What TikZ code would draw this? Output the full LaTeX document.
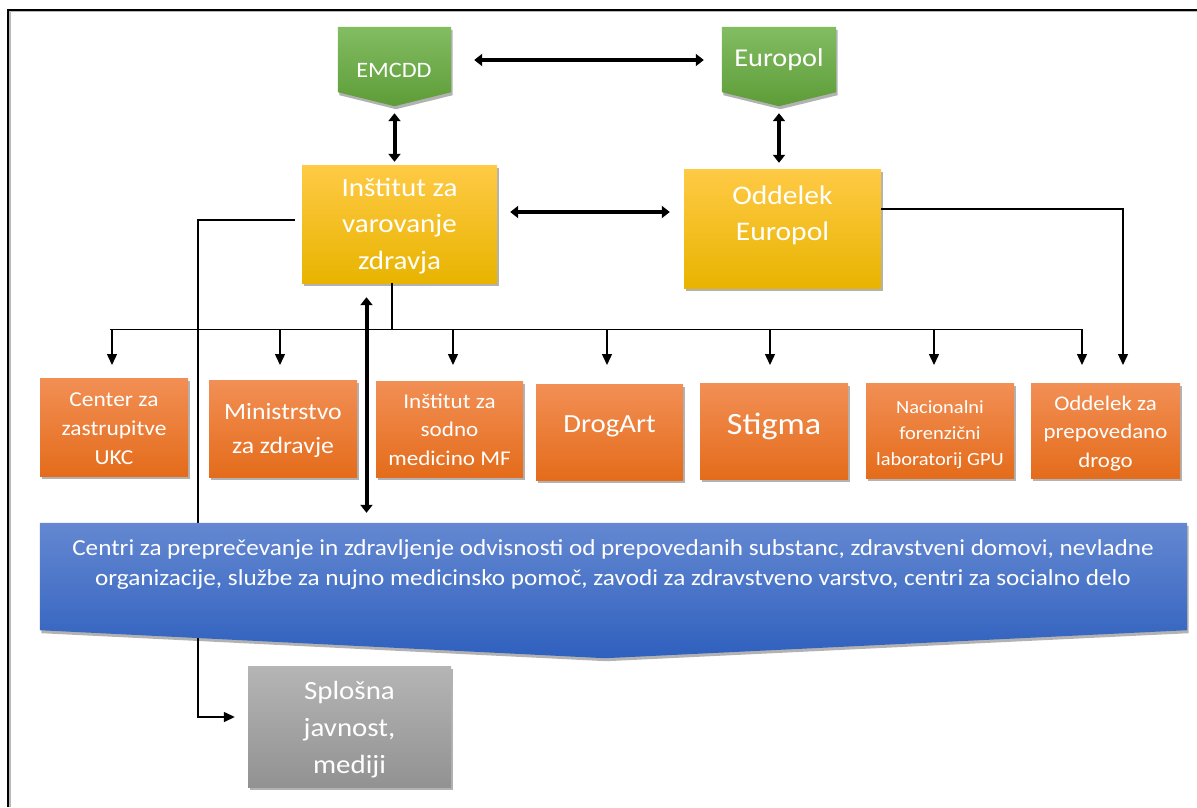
\documentclass[tikz,border=0pt]{standalone}
\usepackage{fontspec}
\setmainfont{Carlito}[FakeStretch=1.1]
\usetikzlibrary{arrows.meta,calc,shadows}
\definecolor{gtop}{HTML}{82BD62}
\definecolor{gbot}{HTML}{5E9C38}
\definecolor{ytop}{HTML}{FFCA45}
\definecolor{ymid}{HTML}{FFC000}
\definecolor{ybot}{HTML}{E8B400}
\definecolor{otop}{HTML}{F28F55}
\definecolor{omid}{HTML}{EE7B34}
\definecolor{obot}{HTML}{E46C1B}
\definecolor{btop}{HTML}{6488D1}
\definecolor{bbot}{HTML}{2F60BE}
\definecolor{stop}{HTML}{B5B5B5}
\definecolor{sbot}{HTML}{929292}
\tikzset{
  shade/.style={drop shadow={shadow xshift=1.5pt,shadow yshift=-3pt,opacity=.3,fill=black}},
  hold/.style={rectangle,inner sep=0pt},
  greenfill/.style={top color=gtop,bottom color=gbot,shade},
  goldbox/.style={hold,top color=ytop,middle color=ymid,bottom color=ybot,shade},
  orangebox/.style={hold,top color=otop,middle color=omid,bottom color=obot,shade},
  greybox/.style={hold,top color=stop,bottom color=sbot,shade},
  bluefill/.style={top color=btop,bottom color=bbot,shade},
  txt/.style={text=white,align=center,inner sep=0pt},
  bigarrow/.style={line width=4pt,{Triangle[width=12pt,length=8pt]}-{Triangle[width=12pt,length=8pt]}},
  arr/.style={line width=1.4pt,-{Triangle[width=10pt,length=11pt]}},
  bus/.style={line width=1.2pt},
}
\newcommand{\fs}[2]{\fontsize{#1}{#2}\selectfont}
\begin{document}
\begin{tikzpicture}[x=1pt,y=-1pt]
\useasboundingbox (0,0) rectangle (1197,807);
% frame
\draw[line width=1.2pt, gray!55] (10,807) -- (10,11.5) -- (1197,11.5);
\draw[line width=2pt] (8,807) -- (8,9.5) -- (1197,9.5);

% top green shapes
\node[hold,minimum width=113pt,minimum height=79pt] (emcdd) at (394.5,66.5) {};
\path[greenfill] (emcdd.north west) -- (emcdd.north east) -- ([yshift=14pt]emcdd.south east) -- (emcdd.south) -- ([yshift=14pt]emcdd.south west) -- cycle;
\node[txt,font=\fs{22}{26}] (emcddtxt) at (394,70) {EMCDD};

\node[hold,minimum width=114pt,minimum height=79pt] (europol) at (779,66.5) {};
\path[greenfill] (europol.north west) -- (europol.north east) -- ([yshift=14pt]europol.south east) -- (europol.south) -- ([yshift=14pt]europol.south west) -- cycle;
\node[txt,font=\fs{25.7}{30}] (europoltxt) at (779,60) {Europol};

% gold boxes
\node[goldbox,minimum width=195pt,minimum height=118pt] (inst) at (399.5,224) {};
\node[txt,font=\fs{26.4}{36.5}] (insttxt) at (399.5,226) {Inštitut za\\varovanje\\zdravja};
\node[goldbox,minimum width=197pt,minimum height=119pt] (oddelek) at (782.5,228.5) {};
\node[txt,font=\fs{26.9}{36}] (oddelektxt) at (782.5,215) {Oddelek\\Europol};

% orange boxes
\node[orangebox,minimum width=148pt,minimum height=98pt] (b1) at (114,427) {};
\node[txt,font=\fs{21.3}{29}] (b1t) at (114,429) {Center za\\zastrupitve\\UKC};
\node[orangebox,minimum width=148pt,minimum height=97pt] (b2) at (283,428.5) {};
\node[txt,font=\fs{23.4}{34}] (b2t) at (283,430) {Ministrstvo\\za zdravje};
\node[orangebox,minimum width=147pt,minimum height=96pt] (b3) at (449.5,429) {};
\node[txt,font=\fs{21}{28.5}] (b3t) at (449.5,429.5) {Inštitut za\\sodno\\medicino MF};
\node[orangebox,minimum width=147pt,minimum height=96pt] (b4) at (609.5,432) {};
\node[txt,font=\fs{26.2}{32}] (b4t) at (609.5,426) {DrogArt};
\node[orangebox,minimum width=148pt,minimum height=96pt] (b5) at (774,431) {};
\node[txt,font=\fs{31}{34}] (b5t) at (774,426) {Stigma};
\node[orangebox,minimum width=148pt,minimum height=95pt] (b6) at (940,430.5) {};
\node[txt,font=\fs{18.6}{26}] (b6t) at (940,435) {Nacionalni\\forenzični\\laboratorij GPU};
\node[orangebox,minimum width=149pt,minimum height=95pt] (b7) at (1105.5,430.5) {};
\node[txt,font=\fs{20.8}{28.5}] (b7t) at (1105.5,433.5) {Oddelek za\\prepovedano\\drogo};

% grey box
\node[greybox,minimum width=203pt,minimum height=121pt] (grey) at (349.5,726.5) {};
\node[txt,font=\fs{26.3}{37}] (greytxt) at (349.5,730) {Splošna\\javnost,\\mediji};

% left line to public (runs behind the banner)
\coordinate (lc) at (198,0);
\coordinate (gy) at ([xshift=-13pt,yshift=9.5pt]grey.west);
\draw[arr] ([xshift=-7pt,yshift=4pt]inst.west) -| (lc |- gy) -- (gy);

% blue banner
\node[hold,minimum width=1147pt,minimum height=135pt] (banner) at (613.5,590.5) {};
\path[bluefill] (banner.north west) -- (banner.north east) -- ([yshift=28pt]banner.south east) -- ([xshift=-8.5pt]banner.south) -- ([yshift=28pt]banner.south west) -- cycle;
\node[txt,font=\fs{22.9}{30}] (bannertxt) at (613,565) {Centri za preprečevanje in zdravljenje odvisnosti od prepovedanih substanc, zdravstveni domovi, nevladne\\organizacije, službe za nujno medicinsko pomoč, zavodi za zdravstveno varstvo, centri za socialno delo};

% connectors
\draw[bigarrow] ([xshift=23pt,yshift=6.5pt]emcdd.east) -- ([xshift=-18pt,yshift=6.5pt]europol.west);
\draw[bigarrow,shorten <=7pt,shorten >=3pt] (emcdd.south) -- (emcdd.south |- inst.north);
\draw[bigarrow,shorten <=7pt,shorten >=6pt] (europol.south) -- (europol.south |- oddelek.north);
\draw[bigarrow,shorten <=13pt,shorten >=14pt] ([yshift=12pt]inst.east) -- ([yshift=12pt]inst.east -| oddelek.west);
\draw[bigarrow,shorten <=14pt,shorten >=10pt] ([xshift=-33pt]inst.south) -- ([xshift=-33pt]inst.south |- banner.north);

% bus
\coordinate (bus) at ([xshift=-7.5pt,yshift=-46pt]inst.south);
\coordinate (tipy) at (0,365);
\draw[bus] ([xshift=-7.5pt]inst.south) -- (bus);
\draw[bus] ([xshift=-4pt]b1.north |- bus) -- ([xshift=-23.5pt]b7.north |- bus);
\foreach \b/\o in {b1/-2,b2/-3,b3/3.5,b4/-2.5,b5/-4,b6/-6,b7/-23.5}{
  \draw[arr] ([xshift=\o pt]\b.north |- bus) -- ([xshift=\o pt]\b.north |- tipy);
}
\draw[arr] ([yshift=19.5pt]oddelek.east) -| ([xshift=17.5pt]b7.north |- tipy);
\end{tikzpicture}
\end{document}
